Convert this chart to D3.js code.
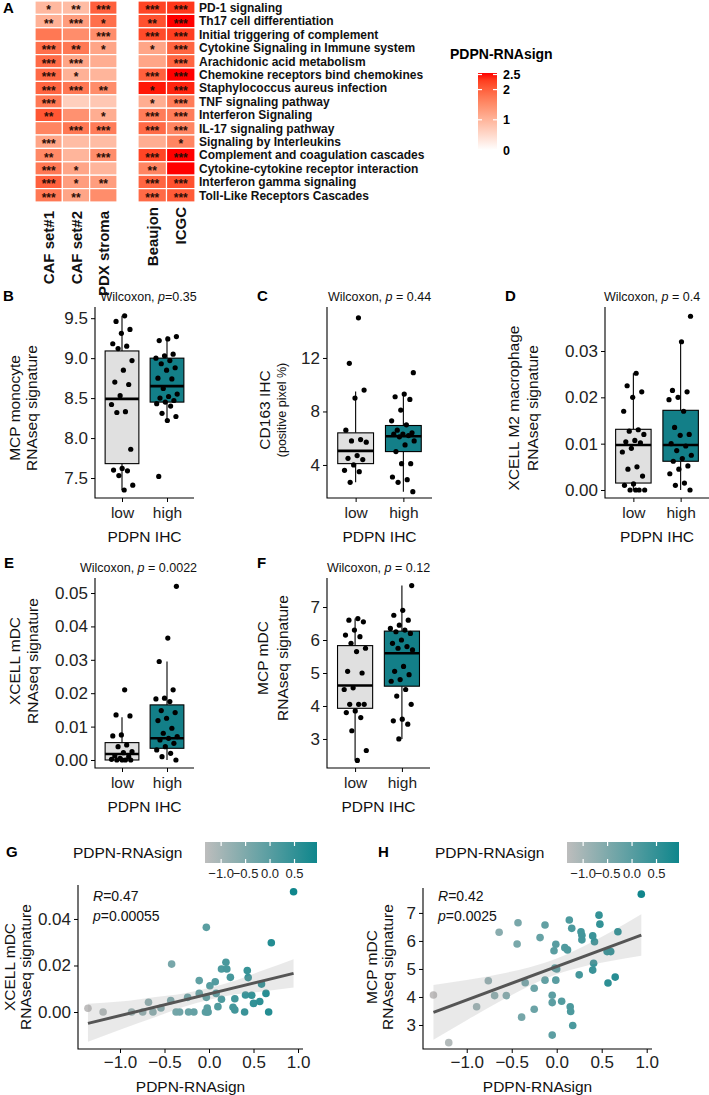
<!DOCTYPE html>
<html>
<head>
<meta charset="utf-8">
<script src="https://cdn.jsdelivr.net/npm/d3@7"></script>
<style>
  body { margin: 0; background: #fff; }
  text { font-family: "Liberation Sans", Arial, Helvetica, sans-serif; }
</style>
</head>
<body>
<svg id="fig" width="709" height="1095"></svg>
<script>
// ---------- panel A data ----------
var pathways = ["PD-1 signaling", "Th17 cell differentiation", "Initial triggering of complement",
  "Cytokine Signaling in Immune system", "Arachidonic acid metabolism", "Chemokine receptors bind chemokines",
  "Staphylococcus aureus infection", "TNF signaling pathway", "Interferon Signaling", "IL-17 signaling pathway",
  "Signaling by Interleukins", "Complement and coagulation cascades", "Cytokine-cytokine receptor interaction",
  "Interferon gamma signaling", "Toll-Like Receptors Cascades"];
var heatSets = ["CAF set#1", "CAF set#2", "PDX stroma", "Beaujon", "ICGC"];
var cafSet1Vals = [0.95, 1.05, 1.75, 1.85, 1.9, 1.9, 1.95, 1.75, 2.1, 1.6, 1.2, 1.55, 1.75, 2.0, 1.75];
var cafSet2Vals = [0.9, 1.3, 1.5, 1.75, 1.2, 1.05, 1.75, 0.65, 1.45, 1.75, 0.9, 1.0, 1.2, 1.3, 1.2];
var pdxStromaVals = [2.0, 1.85, 1.5, 1.2, 1.1, 1.0, 1.5, 0.75, 1.1, 1.7, 0.9, 1.5, 1.0, 1.3, 1.5];
var beaujonVals = [2.25, 2.15, 2.2, 1.2, 1.2, 2.0, 2.5, 1.1, 1.7, 1.9, 1.1, 2.25, 1.6, 1.95, 1.9];
var icgcVals = [2.35, 2.55, 2.3, 1.95, 1.95, 2.55, 2.45, 1.7, 1.7, 1.6, 1.6, 2.55, 2.6, 2.15, 2.05];
var cafSet1Stars = ["*", "**", "", "***", "***", "***", "***", "***", "**", "", "***", "**", "***", "***", "***"];
var cafSet2Stars = ["**", "***", "", "**", "***", "*", "***", "", "", "***", "", "", "*", "*", "**"];
var pdxStromaStars = ["***", "*", "***", "*", "", "", "**", "", "*", "***", "", "***", "", "**", ""];
var beaujonStars = ["***", "**", "***", "*", "", "***", "*", "*", "***", "***", "", "***", "**", "***", "***"];
var icgcStars = ["***", "***", "***", "***", "***", "***", "***", "***", "***", "***", "*", "***", "", "***", "***"];
var legendTicks = [0, 1, 2, 2.5];

// ---------- box plot data (B-F) ----------
var groups = ["low", "high"];
var bLow = [9.53, 9.46, 9.36, 9.31, 9.18, 9.15, 9.12, 8.97, 8.85, 8.70, 8.67, 8.53, 8.42, 8.33, 8.32, 7.86, 7.62, 7.60, 7.59, 7.53, 7.41, 7.35];
var bHigh = [9.27, 9.24, 9.22, 9.05, 9.03, 9.00, 8.97, 8.93, 8.88, 8.85, 8.75, 8.74, 8.62, 8.55, 8.52, 8.50, 8.47, 8.45, 8.43, 8.40, 8.31, 8.27, 8.22, 7.52];
var bLowBox = [7.35, 7.68, 8.49, 9.09, 9.53];
var bHighBox = [8.22, 8.45, 8.65, 9.00, 9.27];
var cLow = [15.0, 11.6, 9.6, 9.0, 6.6, 5.9, 5.8, 5.7, 4.7, 4.5, 4.4, 4.0, 3.6, 3.5, 2.7];
var cHigh = [10.9, 9.3, 9.1, 8.9, 8.1, 7.3, 7.0, 6.6, 6.4, 6.3, 6.3, 6.2, 6.1, 5.8, 5.5, 5.0, 4.1, 4.1, 3.1, 2.9, 2.7, 2.0];
var cLowBox = [2.7, 4.1, 5.05, 6.4, 9.5];
var cHighBox = [2.0, 5.0, 6.15, 6.95, 9.3];
var dLow = [0.0252, 0.0225, 0.0212, 0.0200, 0.0170, 0.0130, 0.0127, 0.0120, 0.0107, 0.0104, 0.0102, 0.0090, 0.0082, 0.0050, 0.0045, 0.0030, 0.0013, 0.0010, 0, 0, 0, 0];
var dHigh = [0.0375, 0.0320, 0.0215, 0.0212, 0.0200, 0.0195, 0.0170, 0.0135, 0.0120, 0.0118, 0.0100, 0.0095, 0.0085, 0.0075, 0.0068, 0.0062, 0.0052, 0.0045, 0.0035, 0.0015, 0.0010, 0];
var dLowBox = [0, 0.0015, 0.0097, 0.0131, 0.0252];
var dHighBox = [0, 0.0062, 0.0097, 0.0172, 0.0320];
var eLow = [0.021, 0.0135, 0.0132, 0.0075, 0.0072, 0.0045, 0.0040, 0.0025, 0.0022, 0.0012, 0.0010, 0.0005, 0.0002, 0, 0, 0, 0];
var eHigh = [0.052, 0.0365, 0.0295, 0.021, 0.0185, 0.0183, 0.0175, 0.0148, 0.0142, 0.0125, 0.0118, 0.0095, 0.008, 0.007, 0.0065, 0.006, 0.005, 0.004, 0.003, 0.002, 0.001, 0];
var eLowBox = [0, 0, 0.0018, 0.0052, 0.0128];
var eHighBox = [0, 0.0035, 0.0065, 0.0165, 0.0295];
var fLow = [6.65, 6.6, 6.55, 6.3, 6.15, 6.1, 5.9, 5.75, 5.65, 5.05, 5.0, 4.55, 4.5, 4.05, 4.05, 4.05, 3.85, 3.8, 3.65, 3.25, 2.65, 2.35];
var fHigh = [7.65, 6.9, 6.75, 6.6, 6.45, 6.35, 6.3, 6.25, 6.2, 6.0, 5.9, 5.8, 5.75, 5.7, 5.2, 5.05, 4.95, 4.8, 4.75, 4.5, 4.3, 4.05, 3.6, 3.55, 3.45, 3.0];
var fLowBox = [2.35, 3.93, 4.62, 5.83, 6.65];
var fHighBox = [3.0, 4.6, 5.6, 6.27, 7.65];

// ---------- scatter data (G, H) ----------
var gX = [-1.36, -1.19, -0.87, -0.745, -0.68, -0.63, -0.54, -0.42, -0.43, -0.37, -0.33, -0.24, -0.23, -0.17, -0.11, -0.11, -0.03, -0.03, -0.04, -0.02, -0.02, -0.01, 0.01, 0.07, 0.08, 0.10, 0.14, 0.19, 0.20, 0.14, 0.24, 0.27, 0.29, 0.29, 0.40, 0.43, 0.44, 0.41, 0.48, 0.50, 0.57, 0.59, 0.64, 0.67, 0.70, 0.95];
var gY = [0.0016, 0, 0, 0, 0.0042, 0, 0.0017, 0.0206, 0.0049, 0, 0, 0.0063, 0, 0, 0.0135, 0.008, 0.0364, 0.0063, 0, 0.0017, 0, 0, 0.0113, 0.013, 0.008, 0.0023, 0.0185, 0.0214, 0.0185, 0.0055, 0.0149, 0.002, 0.0057, 0.0009, 0, 0.0178, 0.0148, 0.0073, 0.0072, 0.0037, 0.0045, 0.012, 0.008, 0, 0.0298, 0.0517];
var gFitX = [-1.36, -1.0, -0.6, -0.3, 0, 0.3, 0.6, 0.95];
var gFitLo = [-0.0128, -0.0076, -0.0021, 0.0021, 0.0053, 0.0076, 0.0088, 0.0105];
var gFitHi = [0.0036, 0.0045, 0.0065, 0.0079, 0.0103, 0.0136, 0.0178, 0.0227];
var gLineX = [-1.36, 0.95];
var gLineY = [-0.0049, 0.0166];
var hX = [-1.37, -1.20, -0.89, -0.76, -0.69, -0.64, -0.56, -0.43, -0.44, -0.39, -0.35, -0.25, -0.25, -0.185, -0.13, -0.13, -0.05, -0.05, -0.05, -0.03, -0.01, -0.02, 0.0, -0.01, 0.055, 0.09, 0.12, 0.14, 0.15, 0.155, 0.167, 0.178, 0.25, 0.27, 0.28, 0.28, 0.40, 0.40, 0.41, 0.42, 0.47, 0.48, 0.56, 0.57, 0.60, 0.65, 0.68, 0.94];
var hY = [4.07, 2.37, 3.65, 4.58, 4.05, 6.31, 4.05, 6.65, 5.89, 3.28, 4.51, 4.31, 3.56, 6.12, 6.57, 4.60, 2.64, 3.80, 4.06, 5.65, 5.88, 5.03, 5.00, 4.60, 3.85, 5.76, 5.68, 6.75, 3.65, 3.48, 6.45, 2.98, 4.79, 6.33, 6.20, 6.04, 6.18, 4.96, 5.20, 5.97, 6.92, 6.60, 5.62, 4.50, 5.62, 4.71, 6.33, 7.67];
var hFitX = [-1.37, -1.0, -0.6, -0.3, 0, 0.3, 0.6, 0.94];
var hFitLo = [2.47, 3.17, 3.90, 4.40, 4.81, 5.09, 5.28, 5.47];
var hFitHi = [4.43, 4.61, 4.84, 5.06, 5.37, 5.81, 6.32, 6.95];
var hLineX = [-1.37, 0.94];
var hLineY = [3.45, 6.21];
var signTicks = [-1.0, -0.5, 0.0, 0.5];

var svg = d3.select("#fig");
var defs = svg.append("defs");
var fmt1 = d3.format(".1f"), fmt2 = d3.format(".2f");
var tickFont = 17;

function panelLetter(t, x, y) {
  svg.append("text").attr("x", x).attr("y", y).attr("font-size", 15).attr("font-weight", "bold").text(t);
}

// ================= Panel A : heatmap =================
panelLetter("A", 3, 13);
var heatVals = [cafSet1Vals, cafSet2Vals, pdxStromaVals, beaujonVals, icgcVals];
var heatStars = [cafSet1Stars, cafSet2Stars, pdxStromaStars, beaujonStars, icgcStars];
var heatColor = d3.scaleLinear().domain([0, 2.55]).range(["#ffffff", "#ff0000"])
  .interpolate(d3.interpolateLab).clamp(true);
var rowY = d3.scaleBand().domain(pathways).range([1, 202]);
var xLeft = d3.scaleBand().domain(heatSets.slice(0, 3)).range([35, 117]);
var xRight = d3.scaleBand().domain(heatSets.slice(3)).range([138, 195]);
function colX(s) { return xLeft.domain().indexOf(s) >= 0 ? xLeft(s) : xRight(s); }
function colW(s) { return xLeft.domain().indexOf(s) >= 0 ? xLeft.bandwidth() : xRight.bandwidth(); }

var cells = [];
heatSets.forEach(function(s, j) {
  pathways.forEach(function(p, i) {
    cells.push({ set: s, path: p, v: heatVals[j][i], star: heatStars[j][i] });
  });
});
var hm = svg.append("g");
hm.selectAll("rect").data(cells).enter().append("rect")
  .attr("x", function(d) { return colX(d.set); })
  .attr("y", function(d) { return rowY(d.path); })
  .attr("width", function(d) { return colW(d.set); })
  .attr("height", rowY.bandwidth())
  .attr("fill", function(d) { return heatColor(d.v); })
  .attr("stroke", "#fff").attr("stroke-width", 1.2);
hm.selectAll("text.star").data(cells.filter(function(d) { return d.star; })).enter().append("text")
  .attr("class", "star")
  .attr("x", function(d) { return colX(d.set) + colW(d.set) / 2; })
  .attr("y", function(d) { return rowY(d.path) + rowY.bandwidth() / 2 + 6.5; })
  .attr("text-anchor", "middle").attr("font-size", 12).attr("font-weight", "bold")
  .attr("fill", "#2a0d06")
  .text(function(d) { return d.star; });
hm.selectAll("text.rowlab").data(pathways).enter().append("text")
  .attr("class", "rowlab")
  .attr("x", 199)
  .attr("y", function(d) { return rowY(d) + rowY.bandwidth() / 2; })
  .attr("dy", "0.36em").attr("font-size", 12).attr("font-weight", "bold").attr("fill", "#111")
  .text(function(d) { return d; });
hm.selectAll("text.collab").data(heatSets).enter().append("text")
  .attr("class", "collab")
  .attr("transform", function(d, j) {
    var xc = colX(d) + colW(d) / 2 + 5.5;
    return "translate(" + xc + "," + (j < 3 ? 211 : 207) + ") rotate(-90)";
  })
  .attr("text-anchor", "end").attr("font-size", 15).attr("font-weight", "bold").attr("fill", "#111")
  .text(function(d) { return d; });

// legend
svg.append("text").attr("x", 450).attr("y", 59).attr("font-size", 14).attr("font-weight", "bold").text("PDPN-RNAsign");
var legY = d3.scaleLinear().domain([0, 2.55]).range([150, 73]);
var grad = defs.append("linearGradient").attr("id", "heatGrad")
  .attr("x1", 0).attr("y1", 1).attr("x2", 0).attr("y2", 0);
d3.range(0, 1.001, 0.1).forEach(function(t) {
  grad.append("stop").attr("offset", t).attr("stop-color", heatColor(t * 2.55));
});
svg.append("rect").attr("x", 478).attr("y", legY(2.55)).attr("width", 19)
  .attr("height", legY(0) - legY(2.55)).attr("fill", "url(#heatGrad)");
legendTicks.forEach(function(t) {
  svg.append("line").attr("x1", 478).attr("x2", 482).attr("y1", legY(t)).attr("y2", legY(t)).attr("stroke", "#fff").attr("stroke-width", 1.2);
  svg.append("line").attr("x1", 493).attr("x2", 497).attr("y1", legY(t)).attr("y2", legY(t)).attr("stroke", "#fff").attr("stroke-width", 1.2);
  svg.append("text").attr("x", 503).attr("y", legY(t)).attr("dy", "0.36em")
    .attr("font-size", 12.5).attr("font-weight", "bold").text(t);
});

// ================= box plots =================
var tealFill = "#137f88", greyFill = "#e0e0e0";

function yTitle(lines, yc) {
  lines.forEach(function(l) {
    svg.append("text")
      .attr("transform", "translate(" + l.x + "," + yc + ") rotate(-90)")
      .attr("text-anchor", "middle").attr("font-size", l.size || 15.5).attr("fill", "#111")
      .text(l.t);
  });
}

function boxPanel(cfg) {
  var g = svg.append("g");
  var x = d3.scalePoint().domain(groups).range([cfg.x0, cfg.x1]).padding(0.6);
  var y = d3.scaleLinear().domain(cfg.ydom).range([cfg.yb, cfg.yt]);
  var bw = x.step() * 0.75;
  var sets = [{ grp: "low", pts: cfg.low, box: cfg.lowBox, fill: greyFill },
              { grp: "high", pts: cfg.high, box: cfg.highBox, fill: tealFill }];
  sets.forEach(function(s) {
    var cx = x(s.grp), b = s.box;
    g.append("line").attr("x1", cx).attr("x2", cx).attr("y1", y(b[0])).attr("y2", y(b[1])).attr("stroke", "#000").attr("stroke-width", 1.1);
    g.append("line").attr("x1", cx).attr("x2", cx).attr("y1", y(b[3])).attr("y2", y(b[4])).attr("stroke", "#000").attr("stroke-width", 1.1);
    g.append("rect").attr("x", cx - bw / 2).attr("width", bw)
      .attr("y", y(b[3])).attr("height", Math.max(0, y(b[1]) - y(b[3])))
      .attr("fill", s.fill).attr("stroke", "#000").attr("stroke-width", 1.1);
    g.append("line").attr("x1", cx - bw / 2).attr("x2", cx + bw / 2).attr("y1", y(b[2])).attr("y2", y(b[2]))
      .attr("stroke", "#000").attr("stroke-width", 2.6);
    g.selectAll(null).data(s.pts).enter().append("circle")
      .attr("cx", function(d, i) { return cx + (((i + 1) * 0.618034 + (s.grp === "high" ? 0.3 : 0)) % 1 - 0.5) * x.step() * 0.5; })
      .attr("cy", function(d) { return y(d); })
      .attr("r", 2.6).attr("fill", "#000");
  });
  // axes
  var ya = g.append("g").attr("transform", "translate(" + cfg.x0 + ",0)")
    .call(d3.axisLeft(y).tickValues(cfg.ticks).tickFormat(cfg.fmt).tickSize(4).tickPadding(3));
  ya.select(".domain").remove();
  ya.selectAll("text").attr("font-size", tickFont).attr("fill", "#222");
  var xa = g.append("g").attr("transform", "translate(0," + cfg.yb + ")")
    .call(d3.axisBottom(x).tickSize(4).tickPadding(5));
  xa.select(".domain").remove();
  xa.selectAll("text").attr("font-size", 15.5).attr("fill", "#222");
  g.append("path").attr("d", "M" + cfg.x0 + "," + cfg.yt + "V" + cfg.yb + "H" + cfg.x1)
    .attr("fill", "none").attr("stroke", "#000").attr("stroke-width", 1.1);
  g.append("text").attr("x", (cfg.x0 + cfg.x1) / 2).attr("y", cfg.yb + 44)
    .attr("text-anchor", "middle").attr("font-size", 15.5).attr("fill", "#111").text("PDPN IHC");
  var tt = g.append("text").attr("x", (cfg.x0 + cfg.x1) / 2 + (cfg.titleShift || 0)).attr("y", cfg.yt - 6)
    .attr("text-anchor", "middle").attr("font-size", 12.5).attr("fill", "#111");
  tt.append("tspan").text("Wilcoxon, ");
  tt.append("tspan").attr("font-style", "italic").text("p");
  tt.append("tspan").text(cfg.pText);
}

panelLetter("B", 3, 301);
boxPanel({ x0: 95, x1: 194, yt: 307, yb: 498, ydom: [7.25, 9.64], ticks: [7.5, 8.0, 8.5, 9.0, 9.5], fmt: fmt1,
  low: bLow, high: bHigh, lowBox: bLowBox, highBox: bHighBox, pText: "=0.35", titleShift: 4 });
yTitle([{ t: "MCP monocyte", x: 20 }, { t: "RNAseq signature", x: 37 }], 408);

panelLetter("C", 257, 301);
boxPanel({ x0: 327, x1: 432, yt: 307, yb: 498, ydom: [1.53, 15.81], ticks: [4, 8, 12], fmt: d3.format("d"),
  low: cLow, high: cHigh, lowBox: cLowBox, highBox: cHighBox, pText: " = 0.44" });
yTitle([{ t: "CD163 IHC", x: 270 }, { t: "(positive pixel %)", x: 286, size: 12.5 }], 410);

panelLetter("D", 505, 301);
boxPanel({ x0: 605, x1: 709, yt: 307, yb: 498, ydom: [-0.00173, 0.0395], ticks: [0, 0.01, 0.02, 0.03], fmt: fmt2,
  low: dLow, high: dHigh, lowBox: dLowBox, highBox: dHighBox, pText: " = 0.4", titleShift: -5 });
yTitle([{ t: "XCELL M2 macrophage", x: 519 }, { t: "RNAseq signature", x: 538 }], 408);

panelLetter("E", 4, 568);
boxPanel({ x0: 95, x1: 194, yt: 578, yb: 768, ydom: [-0.0024, 0.0545], ticks: [0, 0.01, 0.02, 0.03, 0.04, 0.05], fmt: fmt2,
  low: eLow, high: eHigh, lowBox: eLowBox, highBox: eHighBox, pText: " = 0.0022", titleShift: -6 });
yTitle([{ t: "XCELL mDC", x: 20 }, { t: "RNAseq signature", x: 38 }], 661);

panelLetter("F", 257, 568);
boxPanel({ x0: 327, x1: 430, yt: 578, yb: 768, ydom: [2.12, 7.88], ticks: [3, 4, 5, 6, 7], fmt: d3.format("d"),
  low: fLow, high: fHigh, lowBox: fLowBox, highBox: fHighBox, pText: " = 0.12" });
yTitle([{ t: "MCP mDC", x: 268 }, { t: "RNAseq signature", x: 288 }], 658);

// ================= scatter plots =================
var signColor = d3.scaleLinear().domain([-1.33, 0.96]).range(["#bdbdbd", "#0f868c"]).interpolate(d3.interpolateRgb);

function scatterPanel(cfg) {
  var g = svg.append("g");
  var x = d3.scaleLinear().domain(cfg.xdom).range([cfg.x0, cfg.x1]);
  var y = d3.scaleLinear().domain(cfg.ydom).range([cfg.yb, cfg.yt]);
  var pts = cfg.xs.map(function(v, i) { return { x: v, y: cfg.ys[i] }; });
  g.selectAll("circle").data(pts).enter().append("circle")
    .attr("cx", function(d) { return x(d.x); })
    .attr("cy", function(d) { return y(d.y); })
    .attr("r", 3.8)
    .attr("fill", function(d) { return signColor(d.x); });
  var band = cfg.fitX.map(function(v, i) { return { x: v, lo: cfg.fitLo[i], hi: cfg.fitHi[i] }; });
  g.append("path").datum(band)
    .attr("d", d3.area().curve(d3.curveMonotoneX)
      .x(function(d) { return x(d.x); }).y0(function(d) { return y(d.lo); }).y1(function(d) { return y(d.hi); }))
    .attr("fill", "#999").attr("fill-opacity", 0.22);
  g.append("line")
    .attr("x1", x(cfg.lineX[0])).attr("y1", y(cfg.lineY[0]))
    .attr("x2", x(cfg.lineX[1])).attr("y2", y(cfg.lineY[1]))
    .attr("stroke", "#555").attr("stroke-width", 3);
  var ya = g.append("g").attr("transform", "translate(" + cfg.x0 + ",0)")
    .call(d3.axisLeft(y).tickValues(cfg.yticks).tickFormat(cfg.yfmt).tickSize(4).tickPadding(3));
  ya.select(".domain").remove();
  ya.selectAll("text").attr("font-size", tickFont).attr("fill", "#222");
  var xa = g.append("g").attr("transform", "translate(0," + cfg.yb + ")")
    .call(d3.axisBottom(x).tickValues([-1, -0.5, 0, 0.5, 1]).tickFormat(fmt1).tickSize(4).tickPadding(3));
  xa.select(".domain").remove();
  xa.selectAll("text").attr("font-size", tickFont).attr("fill", "#222");
  g.append("path").attr("d", "M" + cfg.x0 + "," + cfg.yt + "V" + cfg.yb + "H" + cfg.x1)
    .attr("fill", "none").attr("stroke", "#000").attr("stroke-width", 1.1);
  g.append("text").attr("x", (cfg.x0 + cfg.x1) / 2).attr("y", cfg.yb + 43)
    .attr("text-anchor", "middle").attr("font-size", 15.5).attr("fill", "#111").text("PDPN-RNAsign");
  // stats
  var r = g.append("text").attr("x", cfg.x0 + 15).attr("y", 901).attr("font-size", 14).attr("fill", "#111");
  r.append("tspan").attr("font-style", "italic").text("R");
  r.append("tspan").text(cfg.rText);
  var p = g.append("text").attr("x", cfg.x0 + 15).attr("y", 921).attr("font-size", 14).attr("fill", "#111");
  p.append("tspan").attr("font-style", "italic").text("p");
  p.append("tspan").text(cfg.pText);
  // colour legend
  g.append("text").attr("x", cfg.legTitleX).attr("y", 858).attr("font-size", 15.5).attr("fill", "#111").text("PDPN-RNAsign");
  var lx = d3.scaleLinear().domain([-1.33, 0.96]).range([cfg.barX, cfg.barX + 112]);
  var gid = "signGrad" + cfg.id;
  var lg = defs.append("linearGradient").attr("id", gid);
  d3.range(0, 1.001, 0.1).forEach(function(t) {
    lg.append("stop").attr("offset", t).attr("stop-color", signColor(-1.33 + t * 2.29));
  });
  g.append("rect").attr("x", cfg.barX).attr("y", 842).attr("width", 112).attr("height", 21).attr("fill", "url(#" + gid + ")");
  signTicks.forEach(function(t) {
    g.append("line").attr("x1", lx(t)).attr("x2", lx(t)).attr("y1", 842).attr("y2", 846).attr("stroke", "#fff").attr("stroke-width", 1.2);
    g.append("line").attr("x1", lx(t)).attr("x2", lx(t)).attr("y1", 859).attr("y2", 863).attr("stroke", "#fff").attr("stroke-width", 1.2);
    g.append("text").attr("x", lx(t)).attr("y", 878).attr("text-anchor", "middle").attr("font-size", 13).attr("fill", "#222").text(fmt1(t));
  });
}

panelLetter("G", 6, 857);
scatterPanel({ id: "G", x0: 78, x1: 303, yt: 885, yb: 1049, xdom: [-1.472, 1.056], ydom: [-0.0159, 0.0546],
  xs: gX, ys: gY, fitX: gFitX, fitLo: gFitLo, fitHi: gFitHi, lineX: gLineX, lineY: gLineY,
  yticks: [0, 0.02, 0.04], yfmt: fmt2, rText: "=0.47", pText: "=0.00055", legTitleX: 73, barX: 205 });
yTitle([{ t: "XCELL mDC", x: 15 }, { t: "RNAseq signature", x: 31 }], 967);

panelLetter("H", 378, 857);
scatterPanel({ id: "H", x0: 423, x1: 652, yt: 888, yb: 1049, xdom: [-1.486, 1.059], ydom: [2.143, 7.89],
  xs: hX, ys: hY, fitX: hFitX, fitLo: hFitLo, fitHi: hFitHi, lineX: hLineX, lineY: hLineY,
  yticks: [3, 4, 5, 6, 7], yfmt: d3.format("d"), rText: "=0.42", pText: "=0.0025", legTitleX: 435, barX: 567 });
yTitle([{ t: "MCP mDC", x: 377 }, { t: "RNAseq signature", x: 393 }], 967);
</script>
</body>
</html>
